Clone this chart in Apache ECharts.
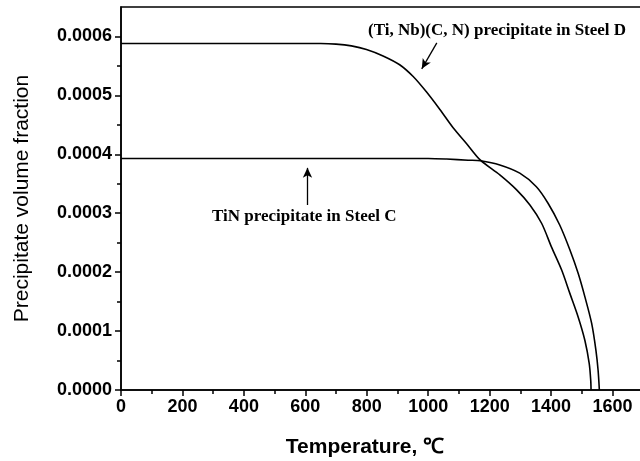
<!DOCTYPE html>
<html>
<head>
<meta charset="utf-8">
<script src="https://cdn.jsdelivr.net/npm/echarts@6/dist/echarts.min.js"></script>
<style>
  html, body { margin: 0; padding: 0; background: #fff; }
  #chart { width: 640px; height: 461px; }
</style>
</head>
<body>
<div id="chart"></div>
<script>
// Steel D: (Ti, Nb)(C, N) precipitate
var steelDTemp = [0, 500, 650, 700, 750, 799, 853, 907, 951, 994, 1038, 1081, 1125, 1170, 1233, 1287, 1331, 1369, 1401, 1434, 1461, 1488, 1510, 1524, 1529, 1530];
var steelDFrac = [0.000588, 0.000588, 0.000588, 0.000587, 0.000584, 0.000578, 0.000567, 0.000552, 0.000532, 0.000506, 0.000476, 0.000445, 0.000418, 0.00039, 0.000365, 0.00034, 0.000314, 0.000283, 0.000243, 0.000204, 0.000164, 0.000124, 0.000084, 0.000045, 0.000016, 0];
// Steel C: TiN precipitate
var steelCTemp = [0, 1000, 1060, 1130, 1170, 1233, 1298, 1352, 1390, 1428, 1461, 1488, 1510, 1532, 1546, 1553, 1557];
var steelCFrac = [0.000393, 0.000393, 0.000392, 0.00039, 0.000389, 0.000382, 0.000368, 0.000345, 0.000317, 0.00028, 0.000238, 0.000198, 0.000158, 0.000113, 0.000067, 0.000033, 0];
var yMajorTicks = [0, 0.0001, 0.0002, 0.0003, 0.0004, 0.0005, 0.0006];
var yMinorTicks = [0.00005, 0.00015, 0.00025, 0.00035, 0.00045, 0.00055];
// annotation arrows [start, tip] in data units
var arrowD = [[1028, 0.000589], [979, 0.000545]];
var arrowC = [[607, 0.000314], [607, 0.000377]];

function zip(xs, ys) {
  return xs.map(function(x, i) { return [x, ys[i]]; });
}

var tickFont = { fontFamily: 'Liberation Sans', fontWeight: 'bold', fontSize: 18, color: '#000' };
var black = { color: '#000', width: 1.5 };

var chart = echarts.init(document.getElementById('chart'), null, { renderer: 'canvas' });
chart.setOption({
  animation: false,
  backgroundColor: '#fff',
  grid: {
    left: 121, right: -34, top: 7, bottom: 71,
    show: true, borderColor: '#000', borderWidth: 1.5,
    containLabel: false, outerBoundsMode: 'none'
  },
  xAxis: {
    type: 'value', min: 0, max: 1800, interval: 200,
    axisLine: { lineStyle: black },
    axisTick: { length: 6, lineStyle: black },
    minorTick: { show: true, splitNumber: 2, length: 4, lineStyle: black },
    axisLabel: Object.assign({ margin: 8, formatter: function(v) { return String(v); } }, tickFont),
    splitLine: { show: false }
  },
  yAxis: [{
    type: 'value', min: 0, max: 0.00065,
    name: 'Precipitate volume fraction', nameLocation: 'middle', nameGap: 88,
    nameTextStyle: { fontFamily: 'Liberation Sans', fontSize: 21, color: '#000' },
    axisLine: { lineStyle: black },
    axisTick: { length: 6, lineStyle: black, customValues: yMajorTicks },
    axisLabel: Object.assign({
      margin: 9, customValues: yMajorTicks,
      formatter: function(v) { return v.toFixed(4); }
    }, tickFont),
    splitLine: { show: false }
  }, {
    type: 'value', min: 0, max: 0.00065, position: 'left',
    axisLine: { show: false },
    axisTick: { length: 4, lineStyle: black, customValues: yMinorTicks },
    axisLabel: { show: false },
    splitLine: { show: false }
  }],
  series: [{
    name: 'Steel D', type: 'line', data: zip(steelDTemp, steelDFrac),
    showSymbol: false, smooth: 0.3,
    lineStyle: { color: '#000', width: 1.6 },
    markLine: {
      silent: true, symbol: ['none', 'arrow'], symbolSize: [7, 10],
      lineStyle: { color: '#000', width: 1.3, type: 'solid' },
      label: { show: false },
      data: [
        [{ coord: arrowD[0] }, { coord: arrowD[1] }],
        [{ coord: arrowC[0] }, { coord: arrowC[1] }]
      ]
    }
  }, {
    name: 'Steel C', type: 'line', data: zip(steelCTemp, steelCFrac),
    showSymbol: false, smooth: 0.3,
    lineStyle: { color: '#000', width: 1.6 }
  }],
  graphic: [{
    type: 'text', left: 368, top: 22,
    style: { text: '(Ti, Nb)(C, N) precipitate in Steel D', font: 'bold 17px "Liberation Serif"', fill: '#000' }
  }, {
    type: 'text', left: 212, top: 208,
    style: { text: 'TiN precipitate in Steel C', font: 'bold 17px "Liberation Serif"', fill: '#000' }
  }, {
    type: 'text', x: 365, y: 447,
    style: { text: 'Temperature, \u2103', font: 'bold 21px "Liberation Sans"', fill: '#000', align: 'center', verticalAlign: 'middle' }
  }]
});
</script>
</body>
</html>
